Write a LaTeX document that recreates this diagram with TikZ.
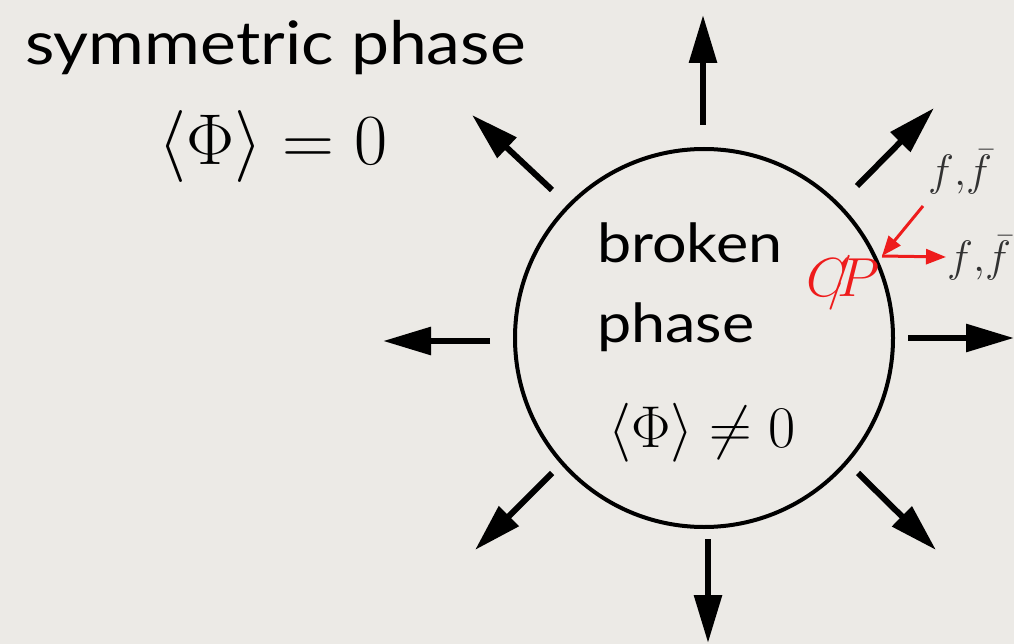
\RequirePackage{fix-cm}
\documentclass[tikz,border=0pt]{standalone}
\usepackage{fontspec}
\newfontfamily\handfont[FakeStretch=1.13]{Lato}
\usetikzlibrary{arrows.meta}
\definecolor{bgcol}{RGB}{236,234,230}
\definecolor{cpred}{RGB}{238,28,28}
\definecolor{fgray}{RGB}{50,50,50}
\tikzset{
  bigarrow/.style={line width=6pt,-{Triangle[length=48pt,width=27pt]}},
  redarrow/.style={draw=cpred,line width=3pt,-{Triangle[length=20pt,width=15pt]}},
  bigtext/.style={font=\handfont\fontsize{60}{72}\selectfont,inner sep=0pt},
  midtext/.style={font=\handfont\fontsize{54}{64}\selectfont,inner sep=0pt},
  flabel/.style={inner sep=0pt,anchor=base west,text=fgray,font=\fontsize{44}{52}\selectfont},
}
\begin{document}
\begin{tikzpicture}[x=1pt,y=-1pt]
\fill[bgcol] (0,0) rectangle (1014,644);
\useasboundingbox (0,0) rectangle (1014,644);
% circle
\node[draw,line width=4pt,circle,minimum size=378pt,inner sep=0pt] (bubble) at (704,338) {};
% texts
\node[bigtext,anchor=base west] (sym) at (25,65) {symmetric phase};
\node[inner sep=0pt,font=\fontsize{72}{80}\selectfont] (phi0) at (273,147) {$\langle\Phi\rangle = 0$};
\node[midtext,anchor=base west] (broken) at (597,262) {broken};
\node[midtext,anchor=base west] (phase) at (597,342) {phase};
\node[inner sep=0pt,font=\fontsize{59}{70}\selectfont] (phi1) at (702,433) {$\langle\Phi\rangle \neq 0$};
% arrows
\coordinate (tS) at (703,125); \coordinate (tE) at (703,15);
\coordinate (bS) at (708,539); \coordinate (bE) at (708,643);
\coordinate (lS) at (490,341); \coordinate (lE) at (383,341);
\coordinate (rS) at (908,338); \coordinate (rE) at (1014,338);
\coordinate (tlS) at (552,190); \coordinate (tlE) at (472,115);
\coordinate (trS) at (857,186); \coordinate (trE) at (934,108);
\coordinate (blS) at (552,473); \coordinate (blE) at (475,550);
\coordinate (brS) at (858,473); \coordinate (brE) at (936,550);
\foreach \a in {t,b,l,r,tl,tr,bl,br}{\draw[bigarrow] (\a S) -- (\a E);}
% CP violation
\coordinate (wall) at (882,256);
\coordinate (inS) at (923,206);
\coordinate (outE) at (946,257);
\draw[redarrow] (inS) -- (wall);
\draw[redarrow] (wall) -- (outE);
\node[inner sep=0pt,anchor=base west,text=cpred,font=\fontsize{55}{60}\selectfont] (cp) at (806,296) {$C\mkern-7mu/\mkern-5mu P$};
\node[flabel] (ff1) at (928,186) {$f{,}\bar f$};
\node[flabel] (ff2) at (947,272) {$f{,}\bar f$};
\end{tikzpicture}
\end{document}
